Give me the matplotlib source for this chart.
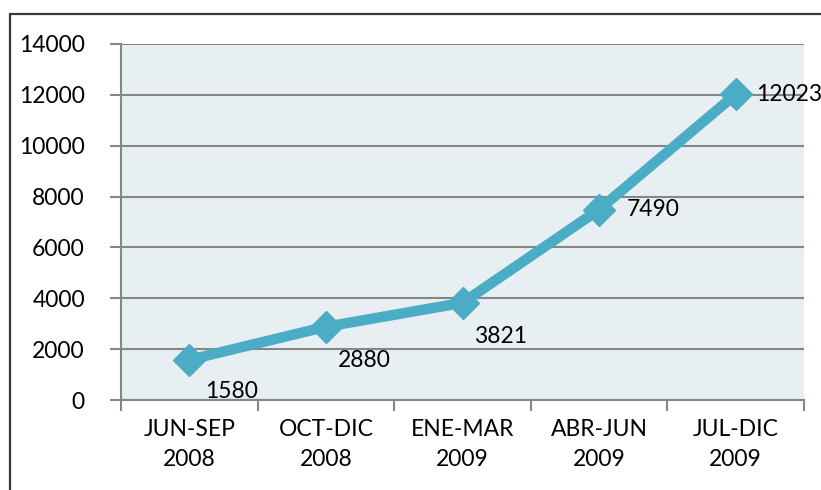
import matplotlib
matplotlib.use("Agg")
import matplotlib.pyplot as plt
from matplotlib.patches import Rectangle
import numpy as np

categories = ["JUN-SEP\n2008", "OCT-DIC\n2008", "ENE-MAR\n2009", "ABR-JUN\n2009", "JUL-DIC\n2009"]
values = [1580, 2880, 3821, 7490, 12023]
yticks = [0, 2000, 4000, 6000, 8000, 10000, 12000, 14000]

plt.rcParams['font.family'] = ['Lato', 'DejaVu Sans']

W, H = 821, 490
fig = plt.figure(figsize=(W / 100, H / 100), dpi=100)
fig.patch.set_facecolor('white')

# outer chart border (extends beyond the image on right/bottom)
fig.patches.append(Rectangle((10 / W, -0.1), 1.2, (H - 14) / H + 0.1,
                             transform=fig.transFigure, fill=False,
                             edgecolor='#3a3a3a', linewidth=1.6, zorder=0))

left, right, top, bottom = 121, 804, 44, 400
ax = fig.add_axes([left / W, 1 - bottom / H, (right - left) / W, (bottom - top) / H])
ax.set_facecolor('#E8EFF3')

fs = 16.5
x = np.arange(len(values))
ax.set_xlim(-0.5, len(values) - 0.5)
ax.set_ylim(0, 14000)
ax.set_yticks(yticks)
ax.set_yticklabels([str(v) for v in yticks], fontsize=fs)
ax.yaxis.grid(True, color='#868686', linewidth=1.5)
ax.set_axisbelow(True)
ax.tick_params(axis='y', length=8, width=1.5, color='#868686', pad=18)

ax.set_xticks(x)
ax.set_xticklabels(categories, fontsize=fs, linespacing=1.5)
ax.tick_params(axis='x', length=0, pad=14)
ax.set_xticks(np.arange(len(values) + 1) - 0.5, minor=True)
ax.tick_params(axis='x', which='minor', length=8, width=1.5, color='#868686')

for s in ['top', 'right']:
    ax.spines[s].set_visible(False)
ax.spines['left'].set_color('#868686')
ax.spines['left'].set_linewidth(1.5)
ax.spines['bottom'].set_color('#868686')
ax.spines['bottom'].set_linewidth(1.5)

ax.plot(x, values, color='#4BACC6', linewidth=7.5, marker='D', markersize=16,
        solid_capstyle='round', clip_on=False, zorder=3)

label_offsets = [(16, -32), (12, -34), (12, -34), (28, 0), (20, 0)]
for xi, v, (dx, dy) in zip(x, values, label_offsets):
    ax.annotate(str(v), (xi, v), xytext=(dx, dy), textcoords='offset pixels',
                ha='left', va='center', fontsize=fs, annotation_clip=False, zorder=4)

fig.savefig('out.png', dpi=100, facecolor='white')
